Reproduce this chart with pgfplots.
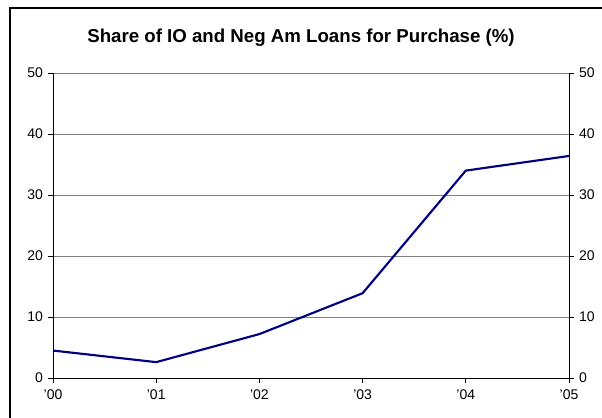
\documentclass[border=0pt]{standalone}
\usepackage{pgfplots}
\pgfplotsset{compat=1.18}
\usepackage{fontspec}
\setmainfont{Liberation Sans}
\definecolor{navy}{RGB}{0,0,128}
\begin{document}
\begin{tikzpicture}[x=1pt,y=1pt]
\path[use as bounding box] (0,0) rectangle (451.5,312.75);
\draw[line width=1.3pt] (7.5,-2) -- (7.5,306.75) -- (455,306.75);
\node[font=\fontsize{14}{16}\selectfont\bfseries] at (225.75,284.25) {Share of IO and Neg Am Loans for Purchase (\%)};
\begin{axis}[
  at={(39.75pt,29.25pt)}, anchor=origin,
  scale only axis, width=387pt, height=228.75pt,
  xmin=0, xmax=5, ymin=0, ymax=50,
  xtick={0,1,2,3,4,5},
  xticklabels={'00,'01,'02,'03,'04,'05},
  ytick={0,10,20,30,40,50},
  axis x line*=bottom, axis y line*=left,
  tick align=outside, major tick length=4pt,
  tick style={black, line width=0.6pt},
  axis line style={black, line width=0.6pt, -},
  ymajorgrids, grid style={gray, line width=0.5pt},
  tick label style={font=\fontsize{10.5}{12}\selectfont},
  /pgf/number format/assume math mode=true,
  xticklabel style={yshift=-1pt},
  clip=false,
]
\addplot[navy, line width=1.6pt] coordinates {(0,4.5) (1,2.6) (2,7.2) (3,13.9) (4,34.0) (5,36.4)};
\end{axis}
\begin{axis}[
  at={(39.75pt,29.25pt)}, anchor=origin,
  scale only axis, width=387pt, height=228.75pt,
  xmin=0, xmax=5, ymin=0, ymax=50,
  xtick=\empty,
  ytick={0,10,20,30,40,50},
  axis x line=none, axis y line*=right,
  tick align=outside, major tick length=4pt,
  tick style={black, line width=0.6pt},
  axis line style={black, line width=0.6pt, -},
  tick label style={font=\fontsize{10.5}{12}\selectfont},
  /pgf/number format/assume math mode=true,
]
\addplot[draw=none] coordinates {(0,0) (5,50)};
\end{axis}
\end{tikzpicture}
\end{document}
